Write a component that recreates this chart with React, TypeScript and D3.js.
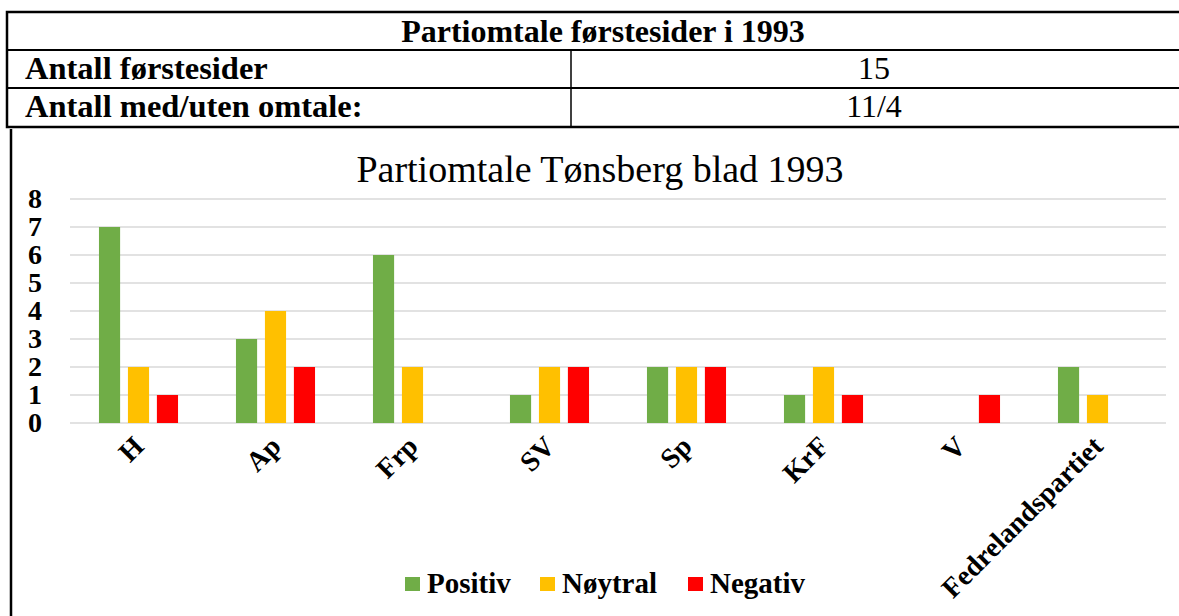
import * as d3 from "d3";

const parties = ["H", "Ap", "Frp", "SV", "Sp", "KrF", "V", "Fedrelandspartiet"];
const positiv = [7, 3, 6, 1, 2, 1, 0, 2];
const noytral = [2, 4, 2, 2, 2, 2, 0, 1];
const negativ = [1, 2, 0, 2, 2, 1, 1, 0];
const seriesNames = ["Positiv", "Nøytral", "Negativ"];
const seriesColors = ["#70AD47", "#FFC000", "#FF0000"];
const yTicks = [0, 1, 2, 3, 4, 5, 6, 7, 8];

const tableTitle = "Partiomtale førstesider i 1993";
const tableRows = [
  ["Antall førstesider", "15"],
  ["Antall med/uten omtale:", "11/4"],
];
const chartTitle = "Partiomtale Tønsberg blad 1993";

export default function App() {
  const W = 1179;
  const H = 616;
  const font = "'Liberation Serif', 'Times New Roman', serif";

  const x = d3.scaleBand().domain(parties).range([70, 1166]);
  const inner = d3
    .scaleBand()
    .domain(seriesNames)
    .range([0, x.bandwidth()])
    .paddingInner(0.27)
    .paddingOuter(1.0);
  const y = d3.scaleLinear().domain([0, 8]).range([423, 199]);

  const values = [positiv, noytral, negativ];

  // table rows
  const rowY = [12, 50, 88, 127];
  const divX = 571;

  return (
    <div style={{ position: "absolute", left: 0, top: 0 }}>
      <svg width={W} height={H} style={{ display: "block", background: "#fff" }}>
        {/* table */}
        <rect x={7} y={rowY[0]} width={1200} height={rowY[3] - rowY[0]} fill="none" stroke="#000" strokeWidth={2.5} />
        <line x1={7} x2={1207} y1={rowY[1]} y2={rowY[1]} stroke="#000" strokeWidth={2} />
        <line x1={7} x2={1207} y1={rowY[2]} y2={rowY[2]} stroke="#000" strokeWidth={2} />
        <line x1={divX} x2={divX} y1={rowY[1]} y2={rowY[3]} stroke="#000" strokeWidth={1.5} />
        <text x={603} y={42} textAnchor="middle" fontFamily={font} fontWeight="bold" fontSize={32}>
          {tableTitle}
        </text>
        {tableRows.map((r, i) => (
          <g key={r[0]}>
            <text x={25} y={rowY[i + 1] + 29} fontFamily={font} fontWeight="bold" fontSize={32.5}>
              {r[0]}
            </text>
            <text x={874} y={rowY[i + 1] + 29} textAnchor="middle" fontFamily={font} fontSize={32}>
              {r[1]}
            </text>
          </g>
        ))}

        {/* chart frame */}
        <line x1={11} x2={11} y1={129} y2={H} stroke="#000" strokeWidth={2.5} />

        <text x={600} y={182} textAnchor="middle" fontFamily={font} fontSize={38}>
          {chartTitle}
        </text>

        {/* grid */}
        {yTicks.map((t) => (
          <g key={t}>
            <line x1={70} x2={1166} y1={y(t)} y2={y(t)} stroke="#d9d9d9" strokeWidth={1.5} />
            <text x={28} y={y(t) + 9} fontFamily={font} fontWeight="bold" fontSize={28}>
              {t}
            </text>
          </g>
        ))}

        {/* bars */}
        {parties.map((p, i) => (
          <g key={p} transform={`translate(${x(p)},0)`}>
            {seriesNames.map((s, j) =>
              values[j][i] > 0 ? (
                <rect
                  key={s}
                  x={inner(s)}
                  y={y(values[j][i])}
                  width={inner.bandwidth()}
                  height={y(0) - y(values[j][i])}
                  fill={seriesColors[j]}
                />
              ) : null
            )}
          </g>
        ))}

        {/* x labels */}
        {parties.map((p) => {
          const cx = (x(p) as number) + x.bandwidth() / 2 + 7;
          return (
            <text
              key={p}
              transform={`translate(${cx},448) rotate(-45)`}
              textAnchor="end"
              fontFamily={font}
              fontWeight="bold"
              fontSize={28}
            >
              {p}
            </text>
          );
        })}

        {/* legend */}
        {seriesNames.map((s, j) => {
          const lx = [405, 540, 688][j];
          return (
            <g key={s}>
              <rect x={lx} y={577} width={15} height={14} fill={seriesColors[j]} />
              <text x={lx + 22} y={593} fontFamily={font} fontWeight="bold" fontSize={29}>
                {s}
              </text>
            </g>
          );
        })}
      </svg>
    </div>
  );
}
